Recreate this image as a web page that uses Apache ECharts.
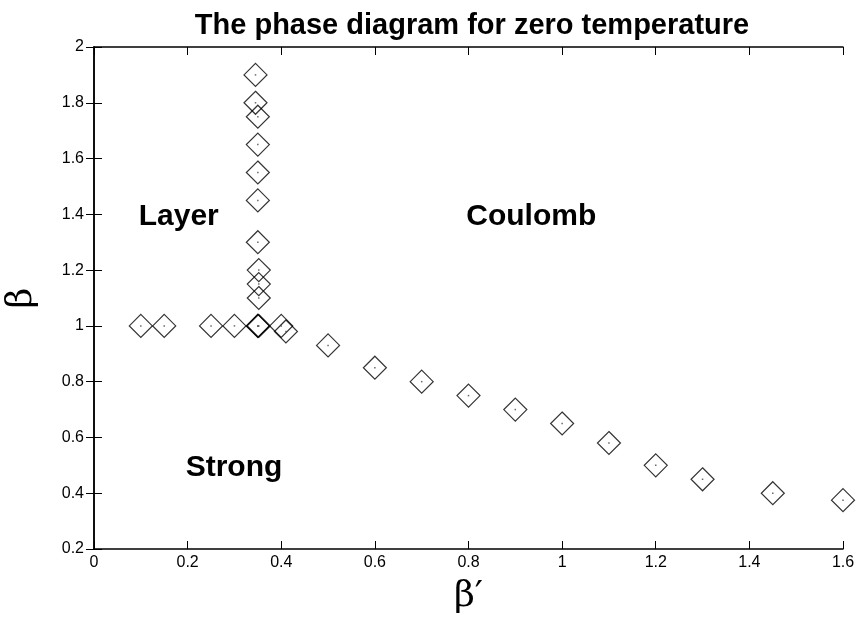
<!DOCTYPE html>
<html><head><meta charset="utf-8">
<script src="https://cdn.jsdelivr.net/npm/echarts@6/dist/echarts.min.js"></script>
<style>html,body{margin:0;padding:0;background:#fff}#c{width:858px;height:617px}</style>
</head><body><div id="c"></div>
<script>
const betaPrime = [0.10,0.15,0.25,0.30,0.35,0.35,0.40,0.41,
  0.345,0.345,0.35,0.35,0.35,0.35,0.35,0.352,0.352,0.352,0.352,
  0.5,0.6,0.7,0.8,0.9,1.0,1.1,1.2,1.3,1.45,1.6];
const beta = [1.0,1.0,1.0,1.0,1.0,1.0,1.0,0.98,
  1.9,1.8,1.75,1.65,1.55,1.45,1.3,1.2,1.15,1.1,1.0,
  0.93,0.85,0.8,0.75,0.7,0.65,0.58,0.5,0.45,0.4,0.375];
const regionNames = ['Layer','Coulomb','Strong'];
const regionX = [0.181,0.934,0.299];
const regionY = [1.39,1.39,0.49];
const xTicks = [0,0.2,0.4,0.6,0.8,1,1.2,1.4,1.6];
const yTicks = [0.2,0.4,0.6,0.8,1,1.2,1.4,1.6,1.8,2];

const pts = betaPrime.map((x,i)=>[x,beta[i]]);
const fmt = v => { const r = Math.round(v*10)/10; return String(r); };
const chart = echarts.init(document.getElementById('c'));
const axisLine = {show:true, lineStyle:{color:'#000', width:1.5}};
const tick = {show:true, inside:true, length:8, lineStyle:{color:'#000'}};
chart.setOption({
  animation:false,
  title:{text:'The phase diagram for zero temperature', left:467, top:6, textAlign:'center',
    textStyle:{fontFamily:'Liberation Sans, Arial', fontWeight:'bold', fontSize:29, color:'#000'}},
  grid:{left:94, right:15, top:47, bottom:68, show:false, containLabel:false, outerBoundsMode:'none'},
  xAxis:[{type:'value', min:0, max:1.6, interval:0.2, position:'bottom',
    axisLine, axisTick:tick, splitLine:{show:false},
    axisLabel:{color:'#000', fontFamily:'Liberation Sans, Arial', fontSize:16, margin:6, formatter:fmt},
    name:'β′', nameLocation:'middle', nameGap:30,
    nameTextStyle:{fontFamily:'DejaVu Serif, Liberation Serif', fontSize:36, color:'#000'}},
   {type:'value', min:0, max:1.6, interval:0.2, position:'top',
    axisLine, axisTick:tick, axisLabel:{show:false}, splitLine:{show:false}}],
  yAxis:[{type:'value', min:0.2, max:2, interval:0.2, position:'left',
    axisLine, axisTick:tick, splitLine:{show:false},
    axisLabel:{color:'#000', fontFamily:'Liberation Sans, Arial', fontSize:16, margin:10, formatter:fmt},
    name:'β', nameLocation:'middle', nameGap:54, nameRotate:90,
    nameTextStyle:{fontFamily:'DejaVu Serif, Liberation Serif', fontSize:36, color:'#000'}},
   {type:'value', min:0.2, max:2, interval:0.2, position:'right',
    axisLine, axisTick:tick, axisLabel:{show:false}, splitLine:{show:false}}],
  series:[
    {type:'scatter', data:pts, symbol:'diamond', symbolSize:[23,23],
     itemStyle:{color:'rgba(0,0,0,0)', borderColor:'#000', borderWidth:1.2}},
    {type:'scatter', data:pts, symbol:'rect', symbolSize:1.5,
     itemStyle:{color:'#444'}},
    {type:'scatter', data:regionX.map((x,i)=>({value:[x,regionY[i]], name:regionNames[i]})),
     symbolSize:1, itemStyle:{color:'rgba(0,0,0,0)', opacity:1},
     label:{show:true, position:'inside', formatter:p=>p.name, color:'#000', opacity:1,
       textBorderWidth:0,
       fontFamily:'Liberation Sans, Arial', fontWeight:'bold', fontSize:30}}
  ]
});
</script></body></html>
